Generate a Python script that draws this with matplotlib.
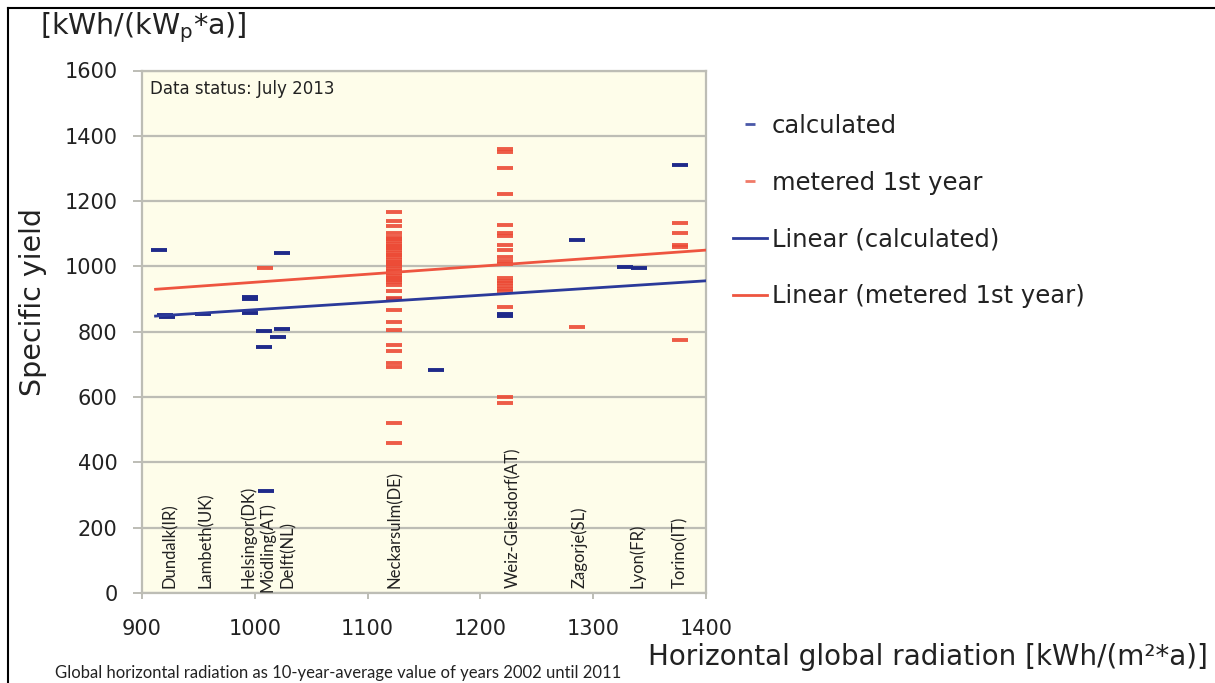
import matplotlib
matplotlib.use("Agg")
import matplotlib.pyplot as plt
from matplotlib.lines import Line2D

plt.rcParams['font.family'] = ['DejaVu Sans']
plt.rcParams['mathtext.default'] = 'regular'

# ---- data -------------------------------------------------------------
# calculated specific yield per plant [kWh/(kWp*a)] vs. horizontal radiation
calc_x = [915, 920, 922, 954, 996, 996, 996, 1008, 1008, 1010, 1024, 1024,
          1021, 1123, 1161, 1222, 1222, 1286, 1328, 1341, 1377]
calc_y = [1050, 850, 845, 855, 905, 900, 858, 802, 752, 312, 1040, 807,
          785, 900, 683, 853, 848, 1080, 997, 995, 1310]

# metered specific yield in the first year of operation
neckarsulm_y = [1167, 1138, 1124, 1101, 1091, 1084, 1077, 1070, 1063, 1056,
                1049, 1042, 1035, 1028, 1021, 1014, 1007, 1000, 993, 986,
                979, 972, 965, 958, 951, 944, 925, 902, 866, 830, 805, 759,
                742, 705, 693, 521, 458]
weiz_y = [1361, 1349, 1300, 1223, 1126, 1102, 1092, 1065, 1050, 1028, 1018,
          1008, 964, 956, 948, 940, 932, 924, 876, 601, 581]
meter_x = ([1009] + [1123] * len(neckarsulm_y) + [1222] * len(weiz_y)
           + [1286] + [1377] * 5)
meter_y = ([995] + neckarsulm_y + weiz_y + [815]
           + [1132, 1103, 1067, 1058, 774])

# linear trend lines
trend_x = [912, 1400]
calc_trend = [848, 956]
meter_trend = [930, 1050]

# site names along the radiation axis
sites = ['Dundalk(IR)', 'Lambeth(UK)', 'Helsingor(DK)', 'Mödling(AT)',
         'Delft(NL)', 'Neckarsulm(DE)', 'Weiz-Gleisdorf(AT)', 'Zagorje(SL)',
         'Lyon(FR)', 'Torino(IT)']
site_x = [925, 957, 994, 1011, 1029, 1124, 1229, 1288, 1339, 1377]
site_base = [15, 15, 15, 2, 15, 15, 15, 15, 15, 15]

x_ticks = [900, 1000, 1100, 1200, 1300, 1400]
y_ticks = [0, 200, 400, 600, 800, 1000, 1200, 1400, 1600]

# ---- styling ----------------------------------------------------------
BLUE = '#1f2a8a'
BLUE_LINE = '#2b3a9a'
RED = '#ec4a35'
RED_LINE = '#ee5540'
GRID = '#bdbdb5'
BG = '#fefdea'
TXT = '#222222'

fig = plt.figure(figsize=(12.15, 6.83), dpi=100)
ax = fig.add_axes([142 / 1215, 1 - 593 / 683, 564 / 1215, 522.5 / 683])
ax.set_facecolor(BG)

ax.set_xlim(900, 1400)
ax.set_ylim(0, 1600)
ax.set_xticks(x_ticks)
ax.set_yticks(y_ticks)
ax.yaxis.grid(True, color=GRID, lw=1.6)
ax.set_axisbelow(True)
for s in ax.spines.values():
    s.set_color(GRID)
    s.set_linewidth(1.6)
ax.tick_params(axis='both', colors=GRID, labelcolor=TXT, labelsize=15,
               width=1.4)
ax.tick_params(axis='y', length=6.5, pad=11)
ax.tick_params(axis='x', length=4, pad=15)

ax.plot(calc_x, calc_y, ls='none', marker='_', ms=11, mew=2.8,
        color=BLUE, zorder=3)
ax.plot(meter_x, meter_y, ls='none', marker='_', ms=11, mew=2.8,
        color=RED, alpha=0.9, zorder=3)
ax.plot(trend_x, calc_trend, color=BLUE_LINE, lw=2, zorder=4)
ax.plot(trend_x, meter_trend, color=RED_LINE, lw=2, zorder=4)

for name, sx, sb in zip(sites, site_x, site_base):
    ax.text(sx, sb, name, rotation=90, ha='center', va='bottom',
            fontsize=12, color=TXT, family='Lato')

ax.text(0.014, 0.982, 'Data status: July 2013', transform=ax.transAxes,
        ha='left', va='top', fontsize=12, color=TXT)

# axis titles
fig.text(40 / 1215, 1 - 28 / 683, r'[kWh/(kW$_{p}$*a)]', ha='left',
         va='center', fontsize=20.5, color=TXT)
fig.text(33 / 1215, 1 - 302 / 683, 'Specific yield', rotation=90,
         ha='center', va='center', fontsize=20.5, color=TXT)
fig.text(648 / 1215, 1 - 657 / 683,
         'Horizontal global radiation [kWh/(m²*a)]', ha='left',
         va='center', fontsize=20, color=TXT)
fig.text(55 / 1215, 1 - 673 / 683,
         'Global horizontal radiation as 10-year-average value of years '
         '2002 until 2011', ha='left', va='center', fontsize=12,
         color=TXT, family='Lato')

# legend
handles = [
    Line2D([], [], ls='none', marker='_', ms=7, mew=2, color='#4a58a8'),
    Line2D([], [], ls='none', marker='_', ms=7, mew=2, color='#f07a68'),
    Line2D([], [], color=BLUE_LINE, lw=2),
    Line2D([], [], color=RED_LINE, lw=2),
]
labels = ['calculated', 'metered 1st year', 'Linear (calculated)',
          'Linear (metered 1st year)']
leg = fig.legend(handles, labels, loc='upper left',
                 bbox_to_anchor=(733 / 1215, 1 - 114 / 683),
                 frameon=False, fontsize=17.5, handlelength=1.4,
                 handletextpad=0.2, labelspacing=1.35, borderpad=0,
                 borderaxespad=0)
for t in leg.get_texts():
    t.set_color(TXT)

# frame lines around the figure
fig.add_artist(Line2D([8 / 1215, 8 / 1215], [0, 1 - 8 / 683],
                      transform=fig.transFigure, color='black', lw=1.5))
fig.add_artist(Line2D([8 / 1215, 1], [1 - 8 / 683, 1 - 8 / 683],
                      transform=fig.transFigure, color='black', lw=1.5))

fig.savefig('out.png', dpi=100, facecolor='white')
